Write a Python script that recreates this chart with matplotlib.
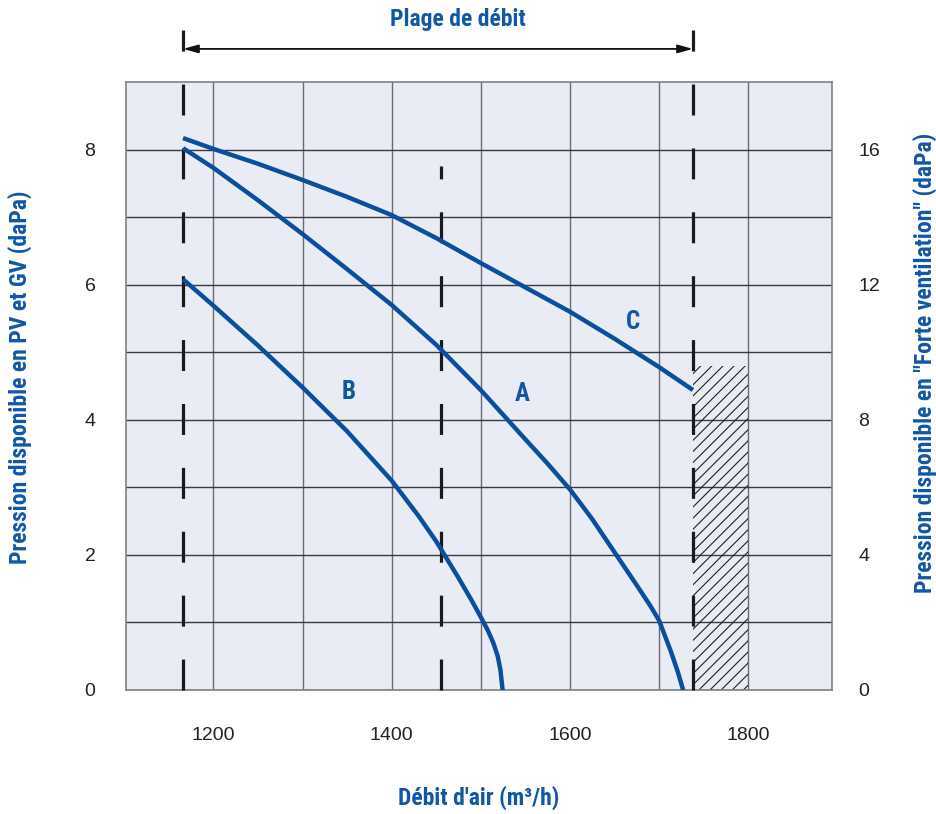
import matplotlib
matplotlib.use("Agg")
import matplotlib.pyplot as plt
from matplotlib import font_manager

# air flow (m3/h) vs available pressure (daPa)
A_X = [1166, 1200, 1250, 1300, 1350, 1400, 1450, 1500, 1550, 1575, 1600, 1625, 1650,
       1675, 1690, 1700, 1713, 1721, 1727]
A_Y = [8.02, 7.73, 7.25, 6.75, 6.23, 5.70, 5.11, 4.44, 3.71, 3.35, 2.97, 2.53, 2.04,
       1.55, 1.25, 1.03, 0.58, 0.27, 0.0]

B_X = [1166, 1200, 1250, 1300, 1350, 1400, 1430, 1450, 1475, 1490, 1500, 1508, 1514,
       1519, 1522, 1524.5]
B_Y = [6.08, 5.69, 5.10, 4.48, 3.83, 3.10, 2.58, 2.20, 1.66, 1.32, 1.08, 0.88, 0.70,
       0.50, 0.30, 0.0]

C_X = [1166, 1200, 1250, 1300, 1350, 1400, 1450, 1500, 1550, 1600, 1650, 1700, 1738]
C_Y = [8.17, 8.01, 7.79, 7.55, 7.30, 7.03, 6.69, 6.32, 5.96, 5.60, 5.20, 4.78, 4.44]

CURVE_LABELS = ["A", "B", "C"]
LABEL_X = [1546, 1352, 1671]
LABEL_Y = [4.38, 4.41, 5.45]

RANGE_MIN, RANGE_MID, RANGE_MAX = 1166, 1455, 1738
HATCH_X = [1738, 1800]
HATCH_TOP = 4.8

X_TICKS = [1200, 1400, 1600, 1800]
Y_TICKS = [0, 2, 4, 6, 8]
Y2_TICKS = [0, 4, 8, 12, 16]

LINE_BLUE = "#0b4f9c"
TEXT_BLUE = "#1157a5"
BG = "#e9ebf5"

avail = {f.name for f in font_manager.fontManager.ttflist}


def pick(*names):
    return next((n for n in names if n in avail), "DejaVu Sans")


COND = pick("Liberation Sans Narrow", "Roboto Condensed", "Roboto")
PLAIN = pick("Liberation Sans", "Roboto")

plt.rcParams["lines.scale_dashes"] = False
plt.rcParams["hatch.linewidth"] = 0.8

fig = plt.figure(figsize=(9.36, 8.14), dpi=100)
ax = fig.add_axes([126 / 936, 124 / 814, 706 / 936, 608 / 814])
ax.set_facecolor(BG)
ax.set_xlim(1102, 1894)
ax.set_ylim(0, 9)

# grid every 100 m3/h and every 1 daPa
ax.set_xticks(range(1200, 1900, 100), minor=True)
ax.set_yticks(range(1, 9), minor=True)
ax.set_xticks(X_TICKS)
ax.set_yticks(Y_TICKS)
ax.xaxis.grid(True, which="both", color="#6b6b73", linewidth=1.0)
ax.yaxis.grid(True, which="both", color="#3a3a40", linewidth=1.0)
ax.set_axisbelow(True)
ax.tick_params(which="both", length=0)
ax.tick_params(axis="x", pad=27, labelsize=14, labelcolor="#222222")
ax.tick_params(axis="y", pad=22, labelsize=14, labelcolor="#222222")
for lab in ax.get_xticklabels() + ax.get_yticklabels():
    lab.set_family(PLAIN)
for sp in ax.spines.values():
    sp.set_color("#808088")
    sp.set_linewidth(1.2)

# hatched zone
ax.fill_between(HATCH_X, 0, HATCH_TOP, facecolor="none", edgecolor="#222222",
                hatch="///", linewidth=0)

# dashed limits
dash = (0, (22.3, 23.7))
for xv, top in [(RANGE_MIN, 9.77), (RANGE_MAX, 9.77), (RANGE_MID, 7.75)]:
    ax.plot([xv, xv], [0, top], color="#1a1a1a", lw=2.3, linestyle=dash,
            clip_on=False, zorder=3)

# curves
for xs, ys in [(A_X, A_Y), (B_X, B_Y), (C_X, C_Y)]:
    ax.plot(xs, ys, color=LINE_BLUE, lw=3.2, solid_capstyle="butt",
            solid_joinstyle="round", zorder=4)

for name, lx, ly in zip(CURVE_LABELS, LABEL_X, LABEL_Y):
    ax.text(lx, ly, name, color=TEXT_BLUE, fontsize=18, fontweight="bold",
            family=COND, ha="center", va="center", zorder=5)

# flow range arrow
ax.annotate("", xy=(RANGE_MIN, 9.49), xytext=(RANGE_MAX, 9.49),
            arrowprops=dict(arrowstyle="<|-|>,head_length=0.9,head_width=0.25",
                            color="#111111", lw=1.3, shrinkA=0, shrinkB=0),
            annotation_clip=False)
ax.text(1474, 9.93, "Plage de débit", color=TEXT_BLUE, fontsize=17,
        fontweight="bold", family=COND, ha="center", va="center")

ax.set_xlabel("Débit d'air (m³/h)", color=TEXT_BLUE, fontsize=17,
              fontweight="bold", family=COND)
ax.xaxis.set_label_coords(0.5, -0.178)
ax.xaxis.label.set_va("center")
ax.set_ylabel("Pression disponible en PV et GV (daPa)", color=TEXT_BLUE,
              fontsize=17, fontweight="bold", family=COND)
ax.yaxis.set_label_coords(-0.150, 0.515)
ax.yaxis.label.set_va("center")

# right axis: "forte ventilation" scale
ax2 = ax.twinx()
ax2.set_ylim(0, 18)
ax2.set_yticks(Y2_TICKS)
ax2.tick_params(length=0, pad=19, labelsize=14, labelcolor="#222222")
for lab in ax2.get_yticklabels():
    lab.set_family(PLAIN)
for sp in ax2.spines.values():
    sp.set_visible(False)
ax2.set_ylabel('Pression disponible en "Forte ventilation" (daPa)',
               color=TEXT_BLUE, fontsize=17, fontweight="bold", family=COND)
ax2.yaxis.set_label_coords(1.132, 0.538)
ax2.yaxis.label.set_va("center")

fig.savefig("out.png", dpi=100)
